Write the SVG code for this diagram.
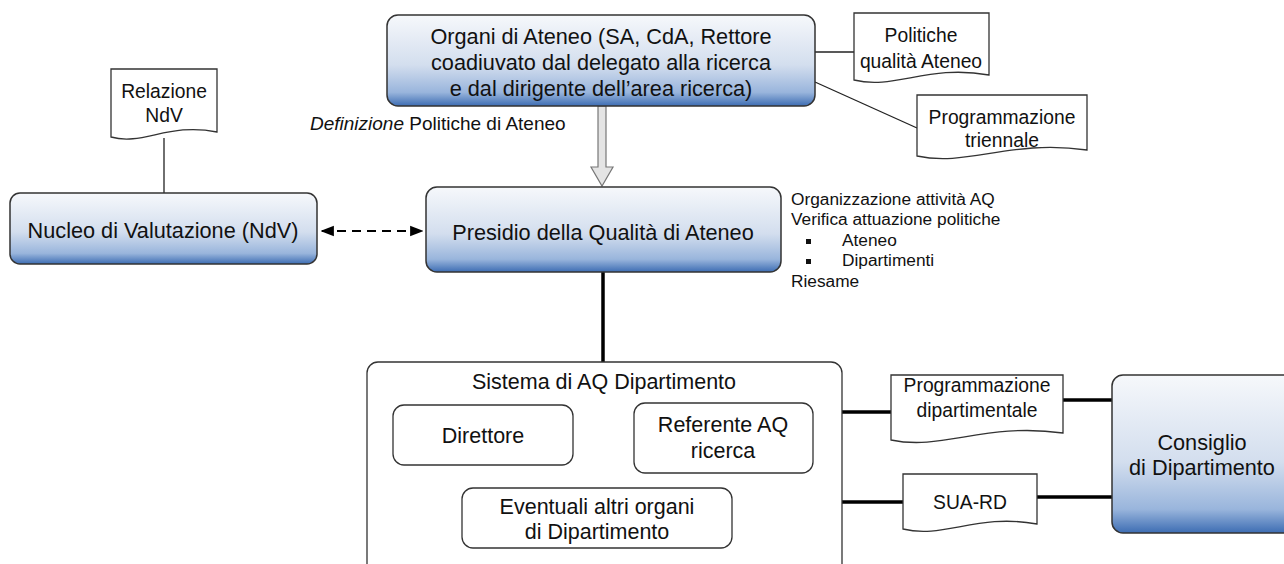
<svg xmlns="http://www.w3.org/2000/svg" width="1284" height="564" viewBox="0 0 1284 564">
<defs>
<linearGradient id="blue" x1="0" y1="0" x2="0" y2="1">
<stop offset="0" stop-color="#f6f8fb"/>
<stop offset="0.55" stop-color="#d3deee"/>
<stop offset="0.85" stop-color="#99b5dc"/>
<stop offset="1" stop-color="#3d6db3"/>
</linearGradient>
<marker id="ah" viewBox="0 0 10 10" refX="9" refY="5" markerWidth="6" markerHeight="6" orient="auto-start-reverse" markerUnits="strokeWidth">
<path d="M0,1 L10,5 L0,9 Z" fill="#000"/>
</marker>
<style>
.gb{fill:url(#blue);stroke:#333;stroke-width:1.5}
.wb{fill:#fff;stroke:#333;stroke-width:1.3}
.doc{fill:#fff;stroke:#333;stroke-width:1.3}
text{font-family:"Liberation Sans",Arial,sans-serif;fill:#111}
.t20{font-size:21.7px;text-anchor:middle}
.t19{font-size:21.5px;text-anchor:middle}
.t16{font-size:19.3px;text-anchor:middle}
.t15{font-size:17.3px}
.thin{stroke:#222;stroke-width:1.3;fill:none}
.thick{stroke:#000;stroke-width:3.5;fill:none}
</style>
</defs>

<g id="connectors">
<line class="thin" x1="815" y1="52" x2="854" y2="52"/>
<line class="thin" x1="815" y1="82" x2="917" y2="128"/>
<line class="thin" x1="164" y1="138" x2="164" y2="193"/>
<polygon points="598,106 606,106 606,167 613,167 602,186 591,167 598,167" fill="#e4e4e4" stroke="#777" stroke-width="1.2"/>
<line x1="322" y1="231" x2="422" y2="231" stroke="#000" stroke-width="2.2" stroke-dasharray="9,6" marker-start="url(#ah)" marker-end="url(#ah)"/>
<line class="thick" x1="603" y1="272" x2="603" y2="363"/>
<line class="thick" x1="842" y1="412" x2="891" y2="412"/>
<line class="thick" x1="1063" y1="400" x2="1112" y2="400"/>
<line class="thick" x1="842" y1="502" x2="903" y2="502"/>
<line class="thick" x1="1037" y1="497" x2="1112" y2="497"/>
</g>

<g id="organi">
<rect class="gb" x="387" y="15" width="428" height="91" rx="11"/>
<text class="t20" x="601" y="44">Organi di Ateneo (SA, CdA, Rettore</text>
<text class="t20" x="601" y="70">coadiuvato dal delegato alla ricerca</text>
<text class="t20" x="601" y="96">e dal dirigente dell’area ricerca)</text>
</g>

<g id="definizione">
<text x="310" y="130" style="font-size:19px"><tspan font-style="italic">Definizione</tspan> Politiche di Ateneo</text>
</g>

<g id="politiche">
<path class="doc" d="M854,13 H989 V75 C928,64 895,90 854,80 Z"/>
<text class="t16" x="921" y="42">Politiche</text>
<text class="t16" x="921" y="68">qualità Ateneo</text>
</g>

<g id="programmazione-triennale">
<path class="doc" d="M917,95 H1087 V150 C1010,139 968,167 917,156 Z"/>
<text class="t16" x="1002" y="124">Programmazione</text>
<text class="t16" x="1002" y="147">triennale</text>
</g>

<g id="relazione">
<path class="doc" d="M111,69 H217 V132 C169,122 143,146 111,137 Z"/>
<text class="t16" x="164" y="98">Relazione</text>
<text class="t16" x="164" y="122">NdV</text>
</g>

<g id="ndv">
<rect class="gb" x="10" y="193" width="307" height="71" rx="10"/>
<text class="t20" x="163" y="238">Nucleo di Valutazione (NdV)</text>
</g>

<g id="presidio">
<rect class="gb" x="426" y="187" width="355" height="85" rx="11"/>
<text class="t20" x="603" y="240">Presidio della Qualità di Ateneo</text>
</g>

<g id="presidio-note">
<text class="t15" x="791" y="205">Organizzazione attività AQ</text>
<text class="t15" x="791" y="225">Verifica attuazione politiche</text>
<rect x="806" y="239" width="5" height="5" fill="#111"/>
<text class="t15" x="842" y="246">Ateneo</text>
<rect x="806" y="259" width="5" height="5" fill="#111"/>
<text class="t15" x="842" y="266">Dipartimenti</text>
<text class="t15" x="791" y="287">Riesame</text>
</g>

<g id="sistema">
<rect class="wb" x="367" y="362" width="475" height="230" rx="11"/>
<text class="t19" x="604" y="389">Sistema di AQ Dipartimento</text>
</g>

<g id="direttore">
<rect class="wb" x="393" y="405" width="180" height="60" rx="11"/>
<text class="t19" x="483" y="443">Direttore</text>
</g>

<g id="referente">
<rect class="wb" x="634" y="403" width="179" height="70" rx="11"/>
<text class="t19" x="723" y="432">Referente AQ</text>
<text class="t19" x="723" y="458">ricerca</text>
</g>

<g id="eventuali">
<rect class="wb" x="462" y="488" width="270" height="60" rx="11"/>
<text class="t19" x="597" y="514">Eventuali altri organi</text>
<text class="t19" x="597" y="539">di Dipartimento</text>
</g>

<g id="programmazione-dipartimentale">
<path class="doc" d="M891,375 H1063 V433 C985,422 943,451 891,440 Z"/>
<text class="t16" x="977" y="392">Programmazione</text>
<text class="t16" x="977" y="417">dipartimentale</text>
</g>

<g id="sua-rd">
<path class="doc" d="M903,474 H1037 V524 C977,513 944,539 903,529 Z"/>
<text class="t16" x="970" y="509">SUA-RD</text>
</g>

<g id="consiglio">
<rect class="gb" x="1112" y="375" width="185" height="158" rx="11"/>
<text class="t20" x="1202" y="450">Consiglio</text>
<text class="t20" x="1202" y="475">di Dipartimento</text>
</g>
</svg>
